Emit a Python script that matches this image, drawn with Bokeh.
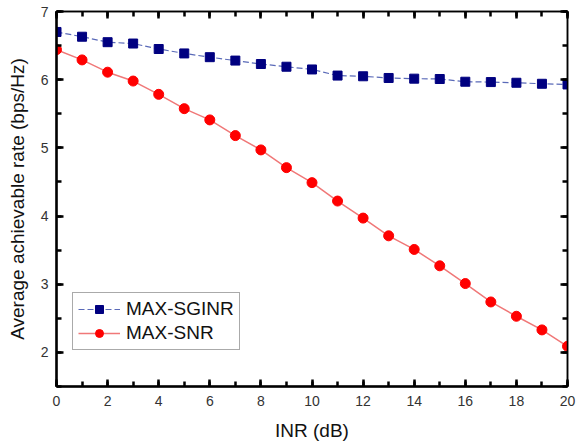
from bokeh.plotting import figure
from bokeh.models import (LinearAxis, SingleIntervalTicker, Range1d, Legend, LegendItem)
from bokeh.embed import file_html
from bokeh.resources import INLINE

inr = list(range(0, 21))
max_sginr = [6.70, 6.63, 6.55, 6.53, 6.45, 6.385, 6.33, 6.28, 6.23, 6.19, 6.15,
             6.06, 6.05, 6.025, 6.015, 6.01, 5.97, 5.965, 5.955, 5.94, 5.93]
max_snr = [6.44, 6.29, 6.11, 5.98, 5.785, 5.575, 5.41, 5.18, 4.97, 4.71, 4.49,
           4.22, 3.97, 3.71, 3.51, 3.27, 3.01, 2.74, 2.53, 2.33, 2.09]
x_label = "INR (dB)"
y_label = "Average achievable rate (bps/Hz)"
names = ["MAX-SGINR", "MAX-SNR"]
x_lo, x_hi = 0, 20
y_lo, y_hi = 1.5, 7

FONT = "Liberation Sans"

p = figure(width=577, height=443, output_backend="svg", toolbar_location=None,
           x_range=Range1d(x_lo, x_hi), y_range=Range1d(y_lo, y_hi),
           min_border_left=56, min_border_right=10, min_border_top=11, min_border_bottom=55,
           x_axis_type=None, y_axis_type=None)
p.background_fill_color = "white"
p.border_fill_color = "white"
p.outline_line_color = "black"
p.outline_line_width = 1.5

def style_axis(ax, labels=True):
    ax.axis_line_color = "black"
    ax.axis_line_width = 2.5
    ax.major_tick_in = 7
    ax.major_tick_out = 0
    ax.minor_tick_in = 5
    ax.minor_tick_out = 0
    ax.major_tick_line_color = "black"
    ax.minor_tick_line_color = "black"
    ax.major_tick_line_width = 2.5
    ax.minor_tick_line_width = 2.5
    ax.major_label_text_font = FONT
    ax.major_label_text_font_size = "14px"
    ax.major_label_text_color = "#333333"
    ax.axis_label_text_font = FONT
    ax.axis_label_text_font_size = "19px"
    ax.axis_label_text_font_style = "normal"
    ax.axis_label_text_color = "#111111"
    if not labels:
        ax.major_label_text_font_size = "0px"
        ax.major_label_text_alpha = 0

xb = LinearAxis(ticker=SingleIntervalTicker(interval=2, num_minor_ticks=2), axis_label=x_label)
style_axis(xb)
xb.major_label_standoff = 9
xb.axis_label_standoff = 11
p.add_layout(xb, "below")

yl = LinearAxis(ticker=SingleIntervalTicker(interval=1, num_minor_ticks=2), axis_label=y_label)
style_axis(yl)
yl.major_label_standoff = 8
yl.axis_label_standoff = 10
p.add_layout(yl, "left")

xt = LinearAxis(ticker=SingleIntervalTicker(interval=2, num_minor_ticks=2))
style_axis(xt, labels=False)
xt.axis_line_width = 1.5
p.add_layout(xt, "above")

yr = LinearAxis(ticker=SingleIntervalTicker(interval=1, num_minor_ticks=2))
style_axis(yr, labels=False)
yr.axis_line_width = 1.5
p.add_layout(yr, "right")

p.xgrid.ticker = xb.ticker
p.ygrid.ticker = yl.ticker
for g in (p.xgrid, p.ygrid):
    g.grid_line_color = "#777777"
    g.grid_line_dash = "2 2"
    g.grid_line_width = 1

l1 = p.line(inr, max_sginr, line_color="#5a6ab8", line_width=1.2, line_dash="6 3")
s1 = p.scatter(inr, max_sginr, marker="square", size=9, fill_color="#000080", line_color="#000080")
l2 = p.line(inr, max_snr, line_color="#f07878", line_width=1.5)
s2 = p.scatter(inr, max_snr, marker="circle", size=10, fill_color="#ff0000", line_color="#ff0000")

legend = Legend(items=[LegendItem(label=names[0], renderers=[l1, s1]),
                       LegendItem(label=names[1], renderers=[l2, s2])],
                location=(16, 36))
legend.label_text_font = FONT
legend.label_text_font_size = "19px"
legend.label_text_color = "#111111"
legend.glyph_width = 42
legend.glyph_height = 20
legend.label_height = 20
legend.spacing = 2
legend.padding = 5
legend.margin = 0
legend.label_standoff = 6
legend.border_line_color = "#555555"
legend.border_line_width = 1
legend.background_fill_alpha = 1
p.add_layout(legend, "center")

open("out.html", "w").write(file_html(p, INLINE))
